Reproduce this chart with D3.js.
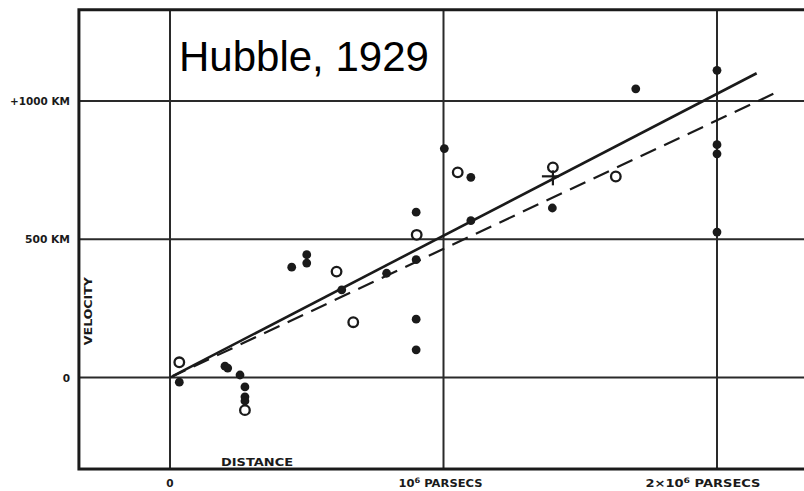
<!DOCTYPE html>
<html>
<head>
<meta charset="utf-8">
<script src="https://cdn.jsdelivr.net/npm/d3@7"></script>
<style>
  html, body { margin: 0; padding: 0; background: #fff; }
  svg { display: block; }
  .lbl { font-family: "DejaVu Sans", sans-serif; font-weight: bold; fill: #1a1a1a; }
</style>
</head>
<body>
<svg id="chart" width="804" height="491"></svg>
<script>
// Distance in units of 10^6 parsecs, velocity in km/s.
// Individual nebulae (filled dots)
const nebulaDist = [0.034, 0.201, 0.211, 0.256, 0.274, 0.274, 0.274, 0.445, 0.50, 0.50,
                    0.628, 0.792, 0.90, 0.90, 0.90, 0.90, 1.003, 1.10, 1.10, 1.398,
                    1.703, 2.0, 2.0, 2.0, 2.0];
const nebulaVel  = [-17, 41, 34, 9, -34, -70, -85, 399, 444, 414,
                    317, 377, 426, 211, 100, 598, 828, 724, 567, 613,
                    1044, 1111, 842, 809, 526];
// Groups of nebulae (open circles)
const groupDist = [0.034, 0.274, 0.609, 0.67, 0.902, 1.052, 1.40, 1.63];
const groupVel  = [55, -118, 383, 200, 516, 742, 760, 727];
// Mean of the nebulae without individual distances (cross)
const meanDist = [1.40];
const meanVel  = [742];
// Fitted relations v = K * d
const fitSolidK = 513, fitSolidRange = [0.01, 2.145];
const fitDashK  = 465, fitDashRange  = [0.0, 2.206];
// Grid and tick labels
const distTicks = [0, 1, 2];
const distTickLabels = ["0", "10⁶ PARSECS", "2×10⁶ PARSECS"];
const velTicks = [0, 500, 1000];
const velTickLabels = ["0", "500 KM", "+1000 KM"];
const distExtent = [-0.333, 2.34];
const velExtent = [-331, 1330];

const svg = d3.select("#chart");
const x = d3.scaleLinear().domain([0, 2]).range([170, 717]);
const y = d3.scaleLinear().domain([0, 1000]).range([377.5, 101]);
const ink = "#1a1a1a";

// grid lines
svg.selectAll("line.vgrid").data(distTicks).join("line")
  .attr("x1", d => x(d)).attr("x2", d => x(d))
  .attr("y1", y(velExtent[1])).attr("y2", y(velExtent[0]))
  .attr("stroke", "#2a2a2a").attr("stroke-width", 2);
svg.selectAll("line.hgrid").data(velTicks).join("line")
  .attr("x1", x(distExtent[0])).attr("x2", x(distExtent[1]))
  .attr("y1", d => y(d)).attr("y2", d => y(d))
  .attr("stroke", "#2a2a2a").attr("stroke-width", 2);

// frame
svg.append("rect")
  .attr("x", x(distExtent[0])).attr("y", y(velExtent[1]))
  .attr("width", x(distExtent[1]) - x(distExtent[0]))
  .attr("height", y(velExtent[0]) - y(velExtent[1]))
  .attr("fill", "none").attr("stroke", ink).attr("stroke-width", 3);

// fitted lines
const line = d3.line().x(d => x(d[0])).y(d => y(d[1]));
svg.append("path")
  .attr("d", line(fitDashRange.map(d => [d, fitDashK * d])))
  .attr("fill", "none").attr("stroke", ink).attr("stroke-width", 2.2)
  .attr("stroke-dasharray", "17,9");
svg.append("path")
  .attr("d", line(fitSolidRange.map(d => [d, fitSolidK * d])))
  .attr("fill", "none").attr("stroke", ink).attr("stroke-width", 2.6);

// individual nebulae
svg.selectAll("circle.neb").data(nebulaDist).join("circle")
  .attr("cx", d => x(d)).attr("cy", (d, i) => y(nebulaVel[i]))
  .attr("r", 4.4).attr("fill", ink);

// groups
svg.selectAll("circle.grp").data(groupDist).join("circle")
  .attr("cx", d => x(d)).attr("cy", (d, i) => y(groupVel[i]))
  .attr("r", 4.8).attr("fill", "#fff").attr("stroke", ink).attr("stroke-width", 2.3);

// mean point cross
meanDist.forEach((d, i) => {
  const cx = x(d), cy = y(meanVel[i]) + 4;
  svg.append("line").attr("x1", cx - 11).attr("x2", cx + 6).attr("y1", cy).attr("y2", cy)
    .attr("stroke", ink).attr("stroke-width", 2.2);
  svg.append("line").attr("x1", cx).attr("x2", cx).attr("y1", cy - 6).attr("y2", cy + 9)
    .attr("stroke", ink).attr("stroke-width", 2.2);
});

// velocity tick labels
const velLabelWidth = { "0": null, "500 KM": 45, "+1000 KM": 60 };
svg.selectAll("text.vt").data(velTicks).join("text")
  .attr("class", "lbl")
  .attr("x", 70).attr("y", d => y(d) + 4)
  .attr("text-anchor", "end").attr("font-size", 10.5)
  .each(function(d, i) {
    const s = velTickLabels[i];
    const t = d3.select(this).text(s);
    if (velLabelWidth[s]) t.attr("textLength", velLabelWidth[s]).attr("lengthAdjust", "spacingAndGlyphs");
  });

// distance tick labels
const distLabelWidth = [null, 84, 115];
const dt = svg.selectAll("text.dt").data(distTicks).join("text")
  .attr("class", "lbl")
  .attr("x", d => x(d) + (d === 0 ? 0 : d === 1 ? -3 : -14))
  .attr("y", 487).attr("text-anchor", "middle").attr("font-size", 10.5);
dt.each(function(d, i) {
  const t = d3.select(this);
  const s = distTickLabels[i];
  const k = s.indexOf("⁶");
  if (k < 0) { t.text(s); return; }
  t.attr("textLength", distLabelWidth[i]).attr("lengthAdjust", "spacingAndGlyphs");
  t.append("tspan").text(s.slice(0, k));
  t.append("tspan").attr("dy", -4).attr("font-size", 7.5).text("6");
  t.append("tspan").attr("dy", 4).text(" " + s.slice(k + 1).trim());
});

// axis titles
svg.append("text").attr("class", "lbl")
  .attr("transform", `translate(92,${y(240)}) rotate(-90)`)
  .attr("text-anchor", "middle").attr("font-size", 10.5)
  .attr("textLength", 68).attr("lengthAdjust", "spacingAndGlyphs")
  .text("VELOCITY");
svg.append("text").attr("class", "lbl")
  .attr("x", 257).attr("y", 466)
  .attr("text-anchor", "middle").attr("font-size", 10.5)
  .attr("textLength", 72).attr("lengthAdjust", "spacingAndGlyphs")
  .text("DISTANCE");

// title
svg.append("text")
  .attr("x", 179).attr("y", 71)
  .attr("font-family", "'Liberation Sans', Arial, sans-serif")
  .attr("font-size", 42).attr("fill", "#000")
  .text("Hubble, 1929");
</script>
</body>
</html>
